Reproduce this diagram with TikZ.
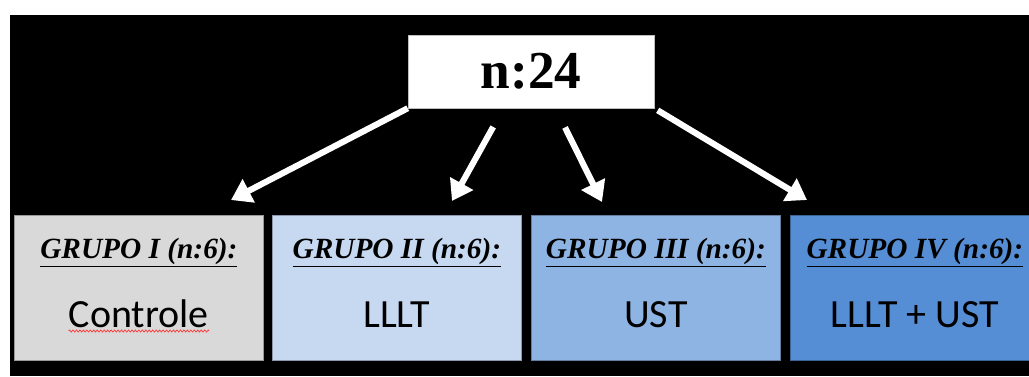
\documentclass[tikz,border=0pt]{standalone}
\usepackage{fontspec}
\setmainfont{Liberation Serif}
\newfontfamily\grpfont{Carlito}
\usetikzlibrary{arrows.meta, decorations.pathmorphing, calc, positioning}
\definecolor{grpGrey}{HTML}{D9D9D9}
\definecolor{grpPale}{HTML}{C6D9F1}
\definecolor{grpMid}{HTML}{8EB4E3}
\definecolor{grpDeep}{HTML}{558ED5}
\tikzset{
  % thick white arrows with a broad head, as on the slide
  arr/.style      = {white, line width=4.6pt, -{Triangle[length=15pt, width=19pt]}},
  totalbox/.style = {fill=white, draw=gray!50, minimum width=184.5pt, minimum height=54.75pt,
                     font=\bfseries\fontsize{40}{44}\selectfont},
  grpbox/.style   = {fill=#1, draw=#1!70!black, line width=0.6pt, anchor=north west,
                     minimum width=186.75pt, minimum height=108.75pt},
  grptitle/.style = {anchor=base, inner sep=0pt, font=\bfseries\itshape\fontsize{22}{25}\selectfont},
  grplbl/.style   = {anchor=base, inner sep=0pt, font=\grpfont\fontsize{30}{34}\selectfont},
  squiggle/.style = {red!80!white, line width=0.5pt, decorate,
                     decoration={zigzag, amplitude=0.8pt, segment length=2.6pt}},
}

\begin{document}
\begin{tikzpicture}[x=0.75pt, y=-0.75pt]
  \useasboundingbox (0,0) rectangle (1029,376);
  \clip (0,0) rectangle (1029,376);
  % page and black slide area
  \fill[white] (0,0) rectangle (1029,376);
  \fill[black] (10,15) rectangle (1029,376);
  % total sample
  \node[totalbox] (total) at (531,71.5) {n:24};
  % the four groups
  \node[grpbox=grpGrey] (g1) at (14,215) {};
  \node[grpbox=grpPale] (g2) at (272,215) {};
  \node[grpbox=grpMid]  (g3) at (531,215) {};
  \node[grpbox=grpDeep] (g4) at (790,215) {};
  \node[grptitle] (g1t) at ($(g1.north)+(0,43)$) {\underline{GRUPO I (n:6):}};
  \node[grptitle] (g2t) at ($(g2.north)+(0,43)$) {\underline{GRUPO II (n:6):}};
  \node[grptitle] (g3t) at ($(g3.north)+(0,43)$) {\underline{GRUPO III (n:6):}};
  \node[grptitle] (g4t) at ($(g4.north)+(0,43)$) {\underline{GRUPO IV (n:6):}};
  \node[grplbl] (g1l) at ($(g1.north)+(0,112)$) {Controle};
  \node[grplbl] (g2l) at ($(g2.north)+(0,112)$) {LLLT};
  \node[grplbl] (g3l) at ($(g3.north)+(0,112)$) {UST};
  \node[grplbl] (g4l) at ($(g4.north)+(0,112)$) {LLLT + UST};
  \draw[squiggle] ([yshift=-3pt]g1l.base west) -- ([yshift=-3pt]g1l.base east);
  % arrow tips, just above the boxes
  \coordinate (t1) at (231,200);
  \coordinate (t2) at (452,201);
  \coordinate (t3) at (602,202);
  \coordinate (t4) at (807,200);
  \draw[arr] (total.south west) -- (t1);
  \draw[arr, shorten <=16pt] ([xshift=-20.6pt]total.south) -- (t2);
  \draw[arr, shorten <=16pt] ([xshift=18.4pt]total.south) -- (t3);
  \draw[arr, shorten <=3pt] (total.south east) -- (t4);
\end{tikzpicture}
\end{document}
